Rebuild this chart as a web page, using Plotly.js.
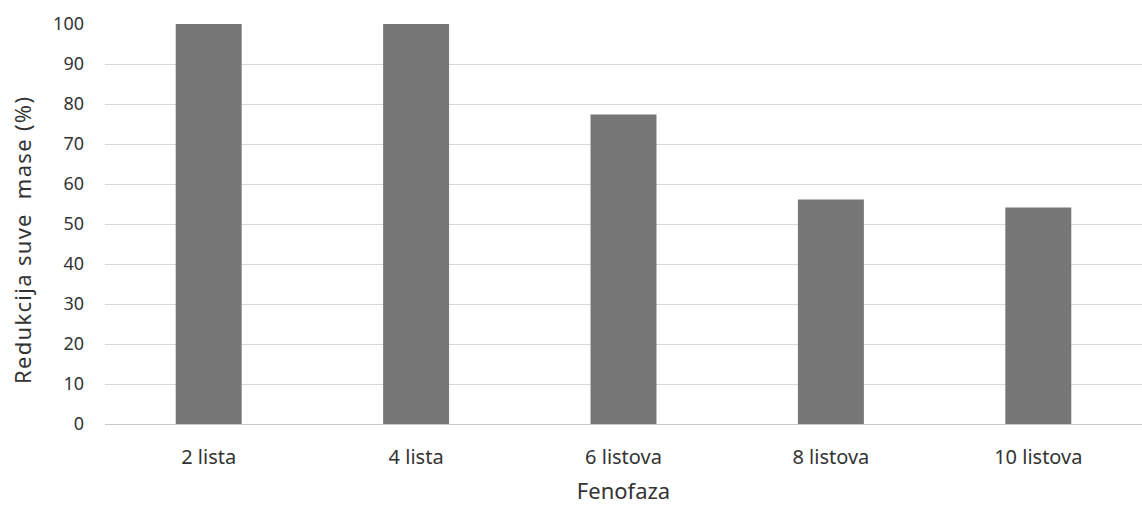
<!DOCTYPE html>
<html>
<head>
<meta charset="utf-8">
<script src="https://cdn.plot.ly/plotly-3.0.1.min.js"></script>
<style>html,body{margin:0;padding:0;background:#fff;}#chart{width:1142px;height:507px;}
.annotation-text{letter-spacing:1.3px;}</style>
</head>
<body>
<div id="chart"></div>
<script>
const categories = ["2 lista", "4 lista", "6 listova", "8 listova", "10 listova"];
const values = [100, 100, 77.4, 56.1, 54.1];
const yTickVals = [0, 10, 20, 30, 40, 50, 60, 70, 80, 90, 100];
const xTitle = "Fenofaza";
const yTitle = "Redukcija suve&nbsp;&nbsp;mase (%)";

const fontFamily = "Noto Sans, Open Sans, sans-serif";

Plotly.newPlot("chart", [{
  type: "bar",
  x: categories,
  y: values,
  marker: {color: "#777777"},
  hoverinfo: "x+y"
}], {
  width: 1142,
  height: 507,
  margin: {l: 105, r: 0, t: 24, b: 83},
  paper_bgcolor: "#ffffff",
  plot_bgcolor: "#ffffff",
  bargap: 0.682,
  showlegend: false,
  font: {family: fontFamily, size: 18, color: "#333333"},
  xaxis: {
    type: "category",
    showgrid: false,
    showline: true,
    linecolor: "#c8c8c8",
    linewidth: 1,
    ticks: "",
    ticklabelstandoff: 15,
    tickfont: {family: fontFamily, size: 20, color: "#333333"},
    title: {text: xTitle, font: {family: fontFamily, size: 22, color: "#333333"}, standoff: 14}
  },
  yaxis: {
    range: [0, 100],
    tickvals: yTickVals,
    ticktext: yTickVals.map(String),
    showgrid: true,
    gridcolor: "#d9d9d9",
    gridwidth: 1,
    zeroline: false,
    showline: false,
    ticks: "",
    ticklabelstandoff: 20,
    tickfont: {family: fontFamily, size: 18, color: "#333333"}
  },
  annotations: [{
    text: yTitle,
    xref: "paper", yref: "paper",
    x: -0.08, y: 0.46,
    xanchor: "center", yanchor: "middle",
    textangle: -90,
    showarrow: false,
    font: {family: fontFamily, size: 22, color: "#333333"}
  }]
}, {displayModeBar: false, staticPlot: true});
</script>
</body>
</html>
